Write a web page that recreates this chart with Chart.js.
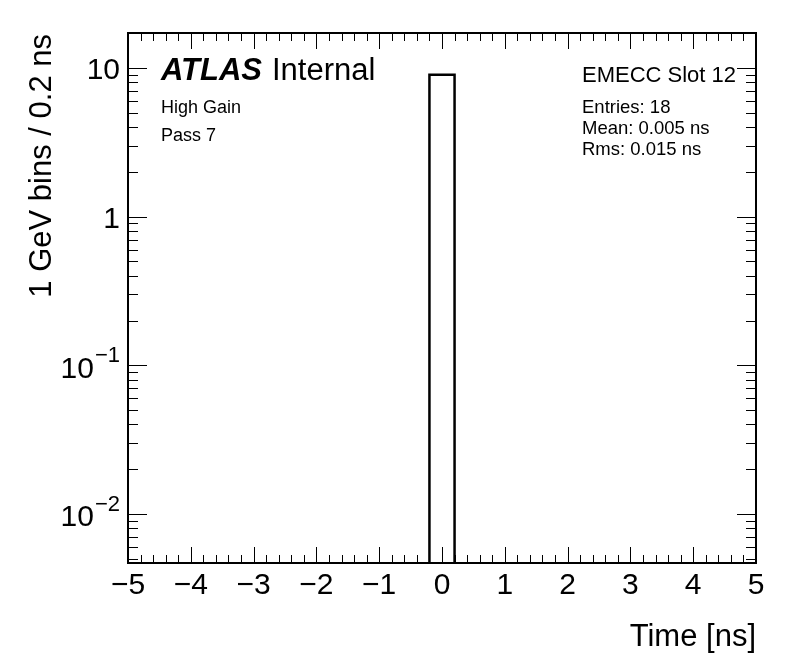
<!DOCTYPE html>
<html>
<head>
<meta charset="utf-8">
<script src="https://cdn.jsdelivr.net/npm/chart.js@4"></script>
<style>
  body { margin: 0; background: #fff; }
  canvas { display: block; }
</style>
</head>
<body>
<canvas id="timeChart" width="796" height="672"></canvas>
<script>
// histogram data (bin edges in ns, entries per bin)
var binEdges = [-0.2, 0.0, 0.2];
var binCounts = [9, 9];

// axis ranges
var xMin = -5, xMax = 5;
var yMin = 0.00468, yMax = 17.2;

// tick labels
var xTicks = [-5, -4, -3, -2, -1, 0, 1, 2, 3, 4, 5];
var xTickLabels = ['\u22125', '\u22124', '\u22123', '\u22122', '\u22121', '0', '1', '2', '3', '4', '5'];
var yTicks = [0.01, 0.1, 1, 10];
var yTickBase = ['10', '10', '1', '10'];
var yTickExp = ['\u22122', '\u22121', '', ''];

var FONT = '"Liberation Sans", Arial, Helvetica, sans-serif';

// outline of the histogram, down to the bottom of the frame
var outline = [{ x: binEdges[0], y: yMin }];
for (var i = 0; i < binCounts.length; i++) {
    outline.push({ x: binEdges[i], y: binCounts[i] });
    outline.push({ x: binEdges[i + 1], y: binCounts[i] });
}
outline.push({ x: binEdges[binEdges.length - 1], y: yMin });

var rootFrame = {
    id: 'rootFrame',
    beforeDraw: function(chart) {
        var ctx = chart.ctx;
        ctx.save();
        ctx.fillStyle = '#fff';
        ctx.fillRect(0, 0, chart.width, chart.height);
        ctx.restore();
    },
    afterDraw: function(chart) {
        var ctx = chart.ctx;
        var a = chart.chartArea;
        var xs = chart.scales.x, ys = chart.scales.y;
        ctx.save();
        ctx.strokeStyle = '#000';
        ctx.fillStyle = '#000';

        // ticks, drawn inside the frame on all four sides
        ctx.lineWidth = 1;
        ctx.beginPath();
        for (var k = -25; k <= 25; k++) {
            var px = Math.round(xs.getPixelForValue(k / 5)) + 0.5;
            var len = (k % 5 === 0) ? 16 : 8;
            ctx.moveTo(px, a.bottom); ctx.lineTo(px, a.bottom - len);
            ctx.moveTo(px, a.top); ctx.lineTo(px, a.top + len);
        }
        for (var d = -3; d <= 1; d++) {
            for (var m = 1; m <= 9; m++) {
                var v = m * Math.pow(10, d);
                if (v < yMin || v > yMax) continue;
                var py = Math.round(ys.getPixelForValue(v)) + 0.5;
                var l = (m === 1) ? 19 : 10;
                ctx.moveTo(a.left, py); ctx.lineTo(a.left + l, py);
                ctx.moveTo(a.right, py); ctx.lineTo(a.right - l, py);
            }
        }
        ctx.stroke();

        // frame
        ctx.lineWidth = 2;
        ctx.strokeRect(a.left, a.top, a.right - a.left, a.bottom - a.top);

        // x tick labels
        ctx.font = '30px ' + FONT;
        ctx.textAlign = 'center';
        ctx.textBaseline = 'alphabetic';
        xTicks.forEach(function(t, i) {
            ctx.fillText(xTickLabels[i], xs.getPixelForValue(t), a.bottom + 31);
        });

        // y tick labels with exponents
        ctx.textAlign = 'right';
        yTicks.forEach(function(t, i) {
            var py = ys.getPixelForValue(t);
            var right = 120;
            if (yTickExp[i]) {
                ctx.font = '22px ' + FONT;
                var ew = ctx.measureText(yTickExp[i]).width;
                ctx.fillText(yTickExp[i], right, py - 3);
                right -= ew + 1;
                ctx.font = '30px ' + FONT;
                ctx.fillText(yTickBase[i], right, py + 12.5);
            } else {
                ctx.font = '30px ' + FONT;
                ctx.fillText(yTickBase[i], right, py + 11);
            }
        });

        // axis titles
        ctx.font = '31px ' + FONT;
        ctx.textAlign = 'right';
        ctx.fillText('Time [ns]', a.right, 646);
        ctx.save();
        ctx.translate(51, a.top + 1);
        ctx.rotate(-Math.PI / 2);
        ctx.fillText('1 GeV bins / 0.2 ns', 0, 0);
        ctx.restore();

        // labels
        ctx.textAlign = 'left';
        ctx.font = 'italic bold 31px ' + FONT;
        ctx.fillText('ATLAS', 161, 80);
        ctx.font = '31px ' + FONT;
        ctx.fillText('Internal', 272, 80);

        ctx.font = '18px ' + FONT;
        ctx.fillText('High Gain', 161, 113);
        ctx.fillText('Pass 7', 161, 141);

        ctx.font = '22px ' + FONT;
        ctx.fillText('EMECC Slot 12', 582, 82);
        ctx.font = '18.5px ' + FONT;
        ctx.fillText('Entries: 18', 582, 113);
        ctx.fillText('Mean: 0.005 ns', 582, 134);
        ctx.fillText('Rms: 0.015 ns', 582, 155);

        ctx.restore();
    }
};

var ctx = document.getElementById('timeChart').getContext('2d');
var timeChart = new Chart(ctx, {
    type: 'line',
    data: {
        datasets: [{
            label: 'EMECC Slot 12',
            data: outline,
            borderColor: '#000',
            borderWidth: 2.5,
            pointRadius: 0,
            fill: false,
            tension: 0
        }]
    },
    options: {
        responsive: false,
        animation: false,
        layout: { padding: { left: 128, top: 33, right: 40, bottom: 109 } },
        plugins: { legend: { display: false }, tooltip: { enabled: false } },
        scales: {
            x: { type: 'linear', min: xMin, max: xMax, display: false },
            y: { type: 'logarithmic', min: yMin, max: yMax, display: false }
        }
    },
    plugins: [rootFrame]
});
</script>
</body>
</html>
